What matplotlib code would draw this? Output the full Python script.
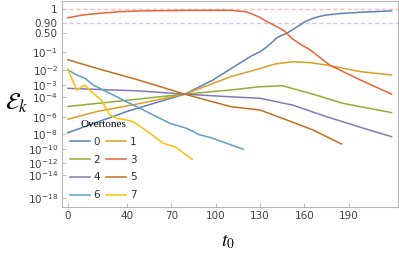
import numpy as np
import matplotlib
matplotlib.use("Agg")
import matplotlib.pyplot as plt

# overtone curves, values
t0 = [0, 20, 40, 60, 79, 98, 116, 124, 130, 134, 137, 141, 144, 148, 152, 157, 161, 166, 170,
      175, 185, 198, 219]
e0 = [1.5e-8, 2.8e-7, 4e-6, 3e-5, 1.7e-4, 2.2e-3, 2.6e-2, 0.063, 0.1, 0.156, 0.22, 0.35, 0.42,
      0.49, 0.64, 0.825, 0.92, 0.953, 0.969, 0.98, 0.989, 0.994, 0.998]

t1 = [0, 20, 48, 79, 110, 130, 140, 152, 163, 175, 198, 219]
e1 = [5.8e-7, 4e-6, 2.3e-5, 1.7e-4, 3.8e-3, 1.3e-2, 2.4e-2, 3.2e-2, 2.9e-2, 2.1e-2, 8.3e-3, 5e-3]

t2 = [0, 48, 79, 110, 130, 145, 164, 186, 219]
e2 = [1.25e-5, 6.3e-5, 1.7e-4, 3.8e-4, 7e-4, 8.3e-4, 2e-4, 2.5e-5, 3e-6]

t3 = [0, 10, 22, 35, 50, 80, 110, 120, 125, 130, 134, 137, 140, 144, 146, 148, 150, 152, 158,
      164, 177, 198, 219]
e3 = [0.958, 0.98, 0.99, 0.996, 0.998, 0.999, 0.999, 0.996, 0.985, 0.96, 0.92, 0.88, 0.8, 0.68,
      0.6, 0.5, 0.41, 0.33, 0.2, 0.12, 2.1e-2, 2.2e-3, 1.7e-4]

t4 = [0, 48, 79, 110, 130, 152, 175, 204, 219]
e4 = [5.2e-4, 3.2e-4, 1.7e-4, 1e-4, 7.4e-5, 1.7e-5, 1.1e-6, 3.2e-8, 4.8e-9]

t5 = [0, 20, 48, 79, 110, 130, 148, 166, 185]
e5 = [4.1e-2, 1.3e-2, 2.2e-3, 1.7e-4, 1.2e-5, 5.5e-6, 4.8e-7, 3.2e-8, 5.2e-10]

t6 = [0, 5.9, 11.5, 17.1, 28.4, 39.7, 48.7, 69, 80.3, 89.3, 96, 118.6]
e6 = [1.1e-2, 5e-3, 3e-3, 9.5e-4, 2e-4, 3.5e-5, 8.3e-6, 2e-7, 5.2e-8, 7.9e-9, 4e-9, 1e-10]

t7 = [0, 5.9, 11.5, 17.1, 22.7, 25, 28.4, 32.9, 39.7, 44, 47.4, 55.5, 64.5, 72.4, 84]
e7 = [1.2e-2, 3.8e-4, 9.5e-4, 2e-4, 5.1e-5, 1.2e-5, 1.7e-6, 7.4e-7, 4.8e-7, 3.1e-7, 1.3e-7,
      1.3e-8, 6.5e-10, 2.2e-10, 3.5e-12]

series = [(t0, e0), (t1, e1), (t2, e2), (t3, e3), (t4, e4), (t5, e5), (t6, e6), (t7, e7)]
names = ["0", "1", "2", "3", "4", "5", "6", "7"]
colors = [(0.368, 0.507, 0.710), (0.881, 0.611, 0.142), (0.560, 0.692, 0.195),
          (0.923, 0.386, 0.209), (0.528, 0.471, 0.701), (0.772, 0.432, 0.102),
          (0.364, 0.619, 0.782), (1.0, 0.75, 0.0)]

yticks = [1, 0.9, 0.5, 1e-1, 1e-2, 1e-3, 1e-4, 1e-6, 1e-8, 1e-10, 1e-12, 1e-14, 1e-18]
ylabels = ["1", "0.90", "0.50", r"$10^{-1}$", r"$10^{-2}$", r"$10^{-3}$", r"$10^{-4}$",
           r"$10^{-6}$", r"$10^{-8}$", r"$10^{-10}$", r"$10^{-12}$", r"$10^{-14}$", r"$10^{-18}$"]
xticks = [0, 40, 70, 100, 130, 160, 190]

# y scale: roughly sqrt(-log10 E), squeezed near 1
S_K = [-3.0, 0.0, 0.214, 0.549, 1.0, 10.0]
D_K = [-183.0, 9.0, 22.7, 33.0, 51.7, 457.6]


def fwd(x):
    x = np.clip(np.asarray(x, dtype=float), 1e-300, None)
    u = -np.log10(x)
    s = np.sign(u) * np.sqrt(np.abs(u))
    return -np.interp(s, S_K, D_K)


def inv(y):
    s = np.interp(-np.asarray(y, dtype=float), D_K, S_K)
    return 10.0 ** (-np.sign(s) * s ** 2)


W, H = 399, 254
fig = plt.figure(figsize=(W / 100, H / 100), dpi=100)
ax = fig.add_axes([62 / W, 1 - 207 / H, 336 / W, 206 / H])
ax.set_yscale("function", functions=(fwd, inv))

ax.axhline(1, color=(1.0, 0.72, 0.72), ls=(0, (3, 2)), lw=1.0)
ax.axhline(0.9, color=(0.78, 0.78, 1.0), ls=(0, (3, 2)), lw=1.0)

lines = []
for (t, e), c, n in zip(series, colors, names):
    ln, = ax.plot(t, e, color=c, lw=1.1, label=n)
    lines.append(ln)

ax.set_xlim(-4, 223.3)
ax.set_ylim(inv(-207), inv(-1))
ax.set_xticks(xticks)
ax.set_yticks(yticks)
ax.set_yticklabels(ylabels)
ax.minorticks_off()
ax.tick_params(direction="in", length=3, width=0.6, color="#b0b0b0",
               labelcolor="#404040", labelsize=7.5, pad=3)
for sp in ax.spines.values():
    sp.set_color("#b8b8b8")
    sp.set_linewidth(0.8)

order = [0, 2, 4, 6, 1, 3, 5, 7]
leg = ax.legend([lines[i] for i in order], [names[i] for i in order], ncol=2,
                frameon=False, loc="upper left",
                bbox_to_anchor=(70 / W, 1 - 120 / H), bbox_transform=fig.transFigure,
                borderpad=0, borderaxespad=0, handlelength=1.9, handletextpad=0.35,
                columnspacing=0.6, labelspacing=0.75, fontsize=7.5,
                title="Overtones", title_fontproperties={"family": "Liberation Serif", "size": 8})
for txt in leg.get_texts():
    txt.set_color("#303030")

fig.text(17 / W, 1 - 103 / H, r"$\mathcal{E}_k$", fontsize=17, ha="center", va="center",
         math_fontfamily="stix")
fig.text(228 / W, 1 - 242 / H, r"$t_0$", fontsize=14, ha="center", va="center",
         math_fontfamily="stix")

fig.savefig("out.png", dpi=100)
